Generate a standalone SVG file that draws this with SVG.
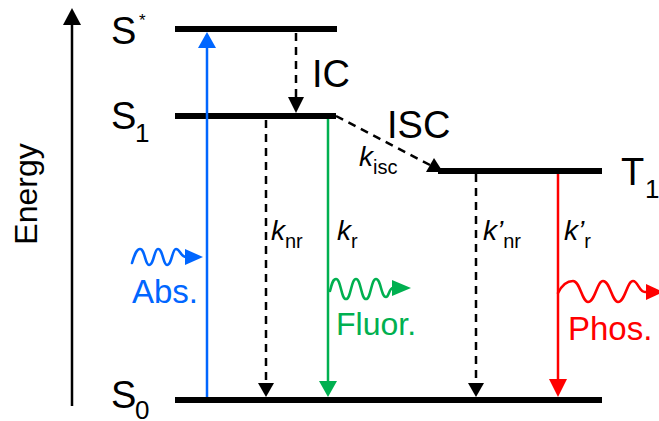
<svg xmlns="http://www.w3.org/2000/svg" width="659" height="421" viewBox="0 0 659 421">
<style>
text{font-family:"Liberation Sans",Arial,sans-serif;fill:#000}
.lbl{font-size:38px}
.sub{font-size:26px}
.k{font-size:28px;font-style:italic}
.ks{font-size:20px}
.lev{stroke:#000;stroke-width:6;fill:none}
.dash{stroke:#000;stroke-width:2.5;stroke-dasharray:8 6;fill:none}
.sol{stroke-width:2.5;fill:none}
.wave{stroke-width:2.6;fill:none;stroke-linecap:round}
</style>
<rect width="659" height="421" fill="#fff"/>
<g id="energy-axis">
<line x1="72" y1="406" x2="72" y2="22" stroke="#000" stroke-width="2.5"/>
<polygon points="63,25 72,8 81,25" fill="#000"/>
<text x="0" y="0" transform="translate(37,194) rotate(-90)" text-anchor="middle" font-size="32">Energy</text>
</g>
<g id="level-Sstar">
<line class="lev" x1="175" y1="29" x2="337" y2="29"/>
<text class="lbl" x="111" y="44">S</text>
<text x="139" y="26" font-size="17">*</text>
</g>
<g id="level-S1">
<line class="lev" x1="175" y1="116" x2="336" y2="116"/>
<text class="lbl" x="111" y="129">S</text>
<text class="sub" x="135" y="142">1</text>
</g>
<g id="level-T1">
<line class="lev" x1="438" y1="171" x2="602" y2="171"/>
<text class="lbl" x="621" y="185">T</text>
<text class="sub" x="645" y="198">1</text>
</g>
<g id="level-S0">
<line class="lev" x1="175" y1="400" x2="602" y2="400"/>
<text class="lbl" x="111" y="408">S</text>
<text class="sub" x="135" y="419">0</text>
</g>
<g id="connectors">
<line class="sol" stroke="#0066FF" x1="207" y1="397" x2="207" y2="46"/>
<polygon points="198,48 207,32 216,48" fill="#0066FF"/>
<line class="dash" x1="296" y1="33" x2="296" y2="98"/>
<polygon points="288,97 296,113 304,97" fill="#000"/>
<line class="dash" x1="266" y1="120" x2="266" y2="384"/>
<polygon points="258,383 266,397 274,383" fill="#000"/>
<line class="sol" stroke="#00B050" x1="328" y1="119" x2="328" y2="383"/>
<polygon points="319,381 328,397 337,381" fill="#00B050"/>
<line class="dash" x1="336" y1="116" x2="430" y2="165"/>
<polygon points="443,172 426,172 434,158" fill="#000"/>
<line class="dash" x1="476" y1="174" x2="476" y2="384"/>
<polygon points="468,383 476,397 484,383" fill="#000"/>
<line class="sol" stroke="#FF0000" x1="558" y1="174" x2="558" y2="381"/>
<polygon points="549,379 558,397 567,379" fill="#FF0000"/>
</g>
<g id="abs-photon">
<path class="wave" stroke="#0066FF" d="M132,263 C135,253 137,249 140,249 C145,249 145,265 149,265 C154,265 154,249 158,249 C163,249 163,265 167,265 C172,265 172,249 176,249 C180,249 181,257 186,257 L188,257"/>
<polygon points="185,249 203,257 185,265" fill="#0066FF"/>
<text x="132" y="303" font-size="33" style="fill:#0066FF">Abs.</text>
</g>
<g id="fluor-photon">
<path class="wave" stroke="#00B050" d="M330,291 C332,283 333,279 336,279 C341,279 341,299 346,299 C351,299 351,279 356,279 C361,279 361,299 366,299 C371,299 371,279 376,279 C381,279 381,297 386,297 C389,297 389,288 393,288 L394,288"/>
<polygon points="392,280 411,288 392,296" fill="#00B050"/>
<text x="336" y="335" font-size="32" style="fill:#00B050">Fluor.</text>
</g>
<g id="phos-photon">
<path class="wave" stroke="#FF0000" d="M558,293 C562,285 567,281 573,281 C580,281 582,302 588,302 C595,302 597,281 603,281 C610,281 612,302 618,302 C625,302 627,281 633,281 C638,281 639,292 645,292 L648,292"/>
<polygon points="646,284 663,292 646,300" fill="#FF0000"/>
<text x="568" y="340" font-size="33" style="fill:#FF0000">Phos.</text>
</g>
<g id="labels">
<text class="lbl" x="312" y="87">IC</text>
<text class="lbl" x="387" y="138">ISC</text>
<text x="359" y="166"><tspan class="k">k</tspan><tspan class="ks" dy="8">isc</tspan></text>
<text x="271" y="240"><tspan class="k">k</tspan><tspan class="ks" dy="8">nr</tspan></text>
<text x="337" y="240"><tspan class="k">k</tspan><tspan class="ks" dy="8">r</tspan></text>
<text x="483" y="240"><tspan class="k">k’</tspan><tspan class="ks" dy="8">nr</tspan></text>
<text x="564" y="240"><tspan class="k">k’</tspan><tspan class="ks" dy="8">r</tspan></text>
</g>
</svg>
